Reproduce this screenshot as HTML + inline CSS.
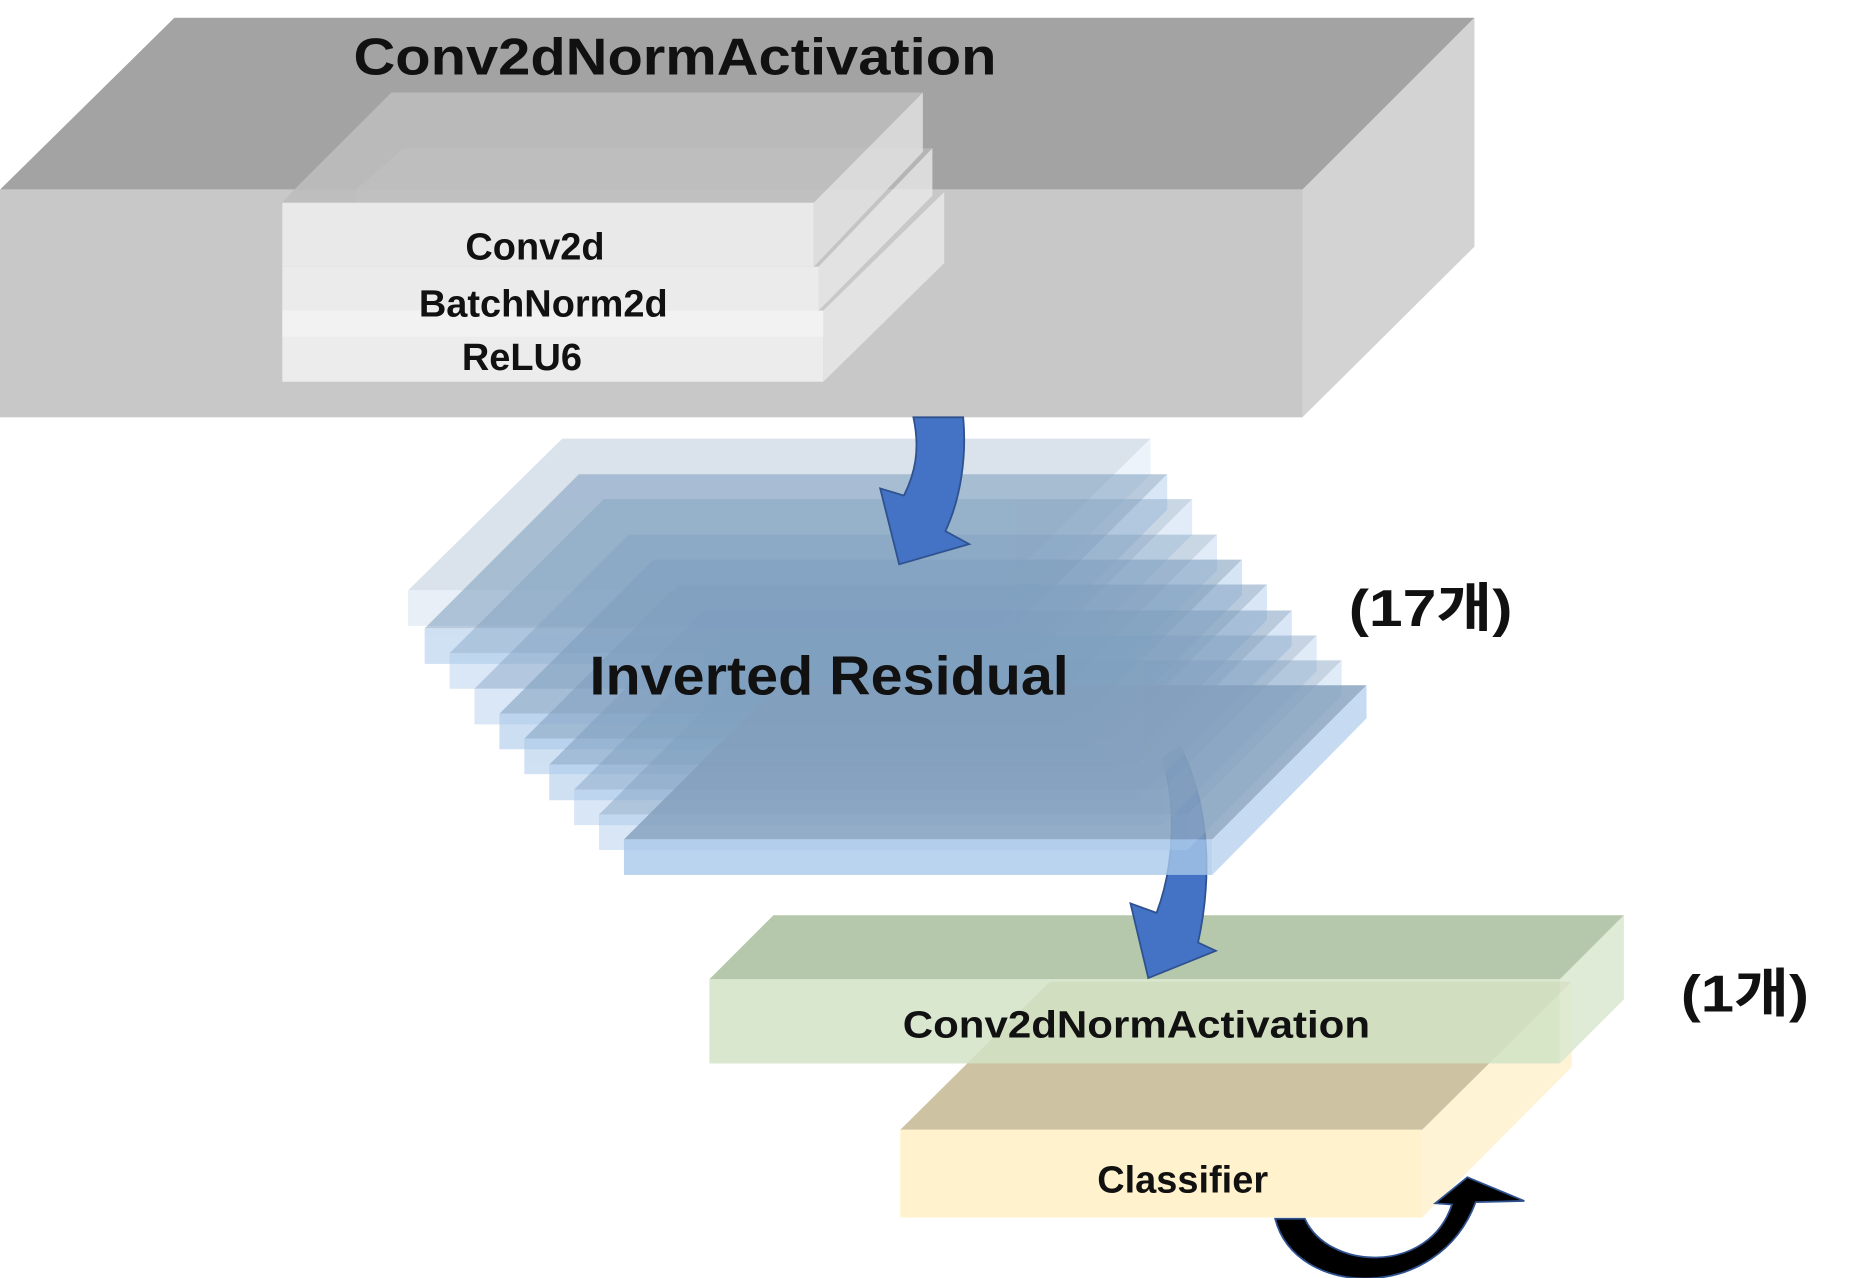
<!DOCTYPE html>
<html><head><meta charset="utf-8"><style>
html,body{margin:0;padding:0;background:#fff;}
svg{display:block;}
text{font-family:"Liberation Sans","Noto Sans CJK KR",sans-serif;font-weight:bold;fill:#111;}
</style></head><body>
<svg width="1860" height="1278" viewBox="0 0 1568 1078" preserveAspectRatio="none" xmlns="http://www.w3.org/2000/svg">
<polygon points="0,160 147,15 1243,15 1098,160" fill="#a3a3a3"/>
<rect x="0" y="160" width="1098" height="192" fill="#c8c8c8"/>
<polygon points="1098,160 1243,15 1243,208 1098,352" fill="#d3d3d3"/>
<text x="298" y="63" font-size="44" textLength="542" lengthAdjust="spacingAndGlyphs">Conv2dNormActivation</text>
<polygon points="248,160 330,78 778,78 686,171 238,171" fill="#bdbdbd" opacity="0.9"/>
<polygon points="300,160 340,125 786,125 690,225 300,225" fill="#c2c2c2" opacity="0.6"/>
<polygon points="686,171 778,78 778,128 686,225" fill="#e4e4e4" opacity="0.8"/>
<polygon points="690,225 786,125 786,165 690,262" fill="#e8e8e8" opacity="0.8"/>
<polygon points="694,262 796,162 796,222 694,322" fill="#e6e6e6" opacity="0.9"/>
<rect x="238" y="171" width="448" height="54" fill="#e9e9e9"/>
<rect x="238" y="225" width="452" height="37" fill="#ebebeb"/>
<rect x="238" y="262" width="456" height="60" fill="#ececec"/>
<rect x="238" y="262" width="456" height="22" fill="#f2f2f2"/>
<text x="451" y="219" font-size="32" text-anchor="middle">Conv2d</text>
<text x="458" y="267" font-size="32" text-anchor="middle">BatchNorm2d</text>
<text x="440" y="312" font-size="32" text-anchor="middle">ReLU6</text>
<polygon points="759,953 885,828 1325,828 1199,953" fill="#cdc2a2"/>
<rect x="759" y="953" width="440" height="74" fill="#fff2cc"/>
<polygon points="1199,953 1325,828 1325,900 1199,1027" fill="#fff3d6"/>
<polygon points="598,826 652,772 1369,772 1315,826" fill="#b6c8ac"/>
<rect x="598" y="826" width="717" height="71" fill="#d1e3c5" opacity="0.85"/>
<polygon points="1315,826 1369,772 1369,843 1315,897" fill="#dbe8d0" opacity="0.85"/>
<text x="958" y="875" font-size="32" text-anchor="middle" textLength="394" lengthAdjust="spacingAndGlyphs">Conv2dNormActivation</text>
<text x="997" y="1006" font-size="32" text-anchor="middle">Classifier</text>
<text x="1417" y="853" font-size="44" textLength="108" lengthAdjust="spacingAndGlyphs">(1개)</text>
<path d="M980,640 C992,680 990,730 975,770 L953,762 L968,825 L1025,802 L1010,795 C1022,740 1020,680 995,630 Z" fill="#4472c4" stroke="#2f528f" stroke-width="1.5"/>
<g>
<g opacity="0.38"><polygon points="344,498 474,370 970,370 840,498" fill="#9fb6cc"/><rect x="344" y="498" width="496" height="30" fill="#c5d7ea"/><polygon points="840,498 970,370 970,400 840,528" fill="#cfe0f2"/></g>
<g opacity="0.55"><polygon points="358,530 488,400 984,400 854,530" fill="#7f9fbf"/><rect x="358" y="530" width="496" height="30" fill="#a9c8ea"/><polygon points="854,530 984,400 984,430 854,560" fill="#b9d3ef"/></g>
<g opacity="0.42"><polygon points="379,551 509,421 1005,421 875,551" fill="#7f9fbf"/><rect x="379" y="551" width="496" height="30" fill="#a9c8ea"/><polygon points="875,551 1005,421 1005,451 875,581" fill="#b9d3ef"/></g>
<g opacity="0.42"><polygon points="400,581 530,451 1026,451 896,581" fill="#7f9fbf"/><rect x="400" y="581" width="496" height="30" fill="#a9c8ea"/><polygon points="896,581 1026,451 1026,481 896,611" fill="#b9d3ef"/></g>
<g opacity="0.58"><polygon points="421,602 551,472 1047,472 917,602" fill="#7f9fbf"/><rect x="421" y="602" width="496" height="30" fill="#a9c8ea"/><polygon points="917,602 1047,472 1047,502 917,632" fill="#b9d3ef"/></g>
<g opacity="0.55"><polygon points="442,623 572,493 1068,493 938,623" fill="#7f9fbf"/><rect x="442" y="623" width="496" height="30" fill="#a9c8ea"/><polygon points="938,623 1068,493 1068,523 938,653" fill="#b9d3ef"/></g>
<g opacity="0.55"><polygon points="463,645 593,515 1089,515 959,645" fill="#7f9fbf"/><rect x="463" y="645" width="496" height="30" fill="#a9c8ea"/><polygon points="959,645 1089,515 1089,545 959,675" fill="#b9d3ef"/></g>
<g opacity="0.45"><polygon points="484,666 614,536 1110,536 980,666" fill="#7f9fbf"/><rect x="484" y="666" width="496" height="30" fill="#a9c8ea"/><polygon points="980,666 1110,536 1110,566 980,696" fill="#b9d3ef"/></g>
<g opacity="0.45"><polygon points="505,687 635,557 1131,557 1001,687" fill="#7f9fbf"/><rect x="505" y="687" width="496" height="30" fill="#a9c8ea"/><polygon points="1001,687 1131,557 1131,587 1001,717" fill="#b9d3ef"/></g>
<g opacity="0.8"><polygon points="526,708 656,578 1152,578 1022,708" fill="#839fbd"/><rect x="526" y="708" width="496" height="30" fill="#a9c9ea"/><polygon points="1022,708 1152,578 1152,606 1022,738" fill="#b8d3ef"/></g>
</g>
<text x="497" y="586" font-size="46" textLength="404" lengthAdjust="spacingAndGlyphs">Inverted Residual</text>
<text x="1137" y="528" font-size="44" textLength="138" lengthAdjust="spacingAndGlyphs">(17개)</text>
<path d="M770,352 C776,380 771,400 762,418 L742,412 L758,476 L817,459 L797,448 C810,420 815,385 812,352 Z" fill="#4472c4" stroke="#2f528f" stroke-width="1.5"/>
<path d="M1075,1028 C1092,1095 1212,1100 1244,1014 L1285,1013 L1237,993 L1210,1015 L1224,1016 C1205,1075 1120,1072 1100,1028 Z" fill="#000" stroke="#2f528f" stroke-width="1.5"/>
</svg>
</body></html>
